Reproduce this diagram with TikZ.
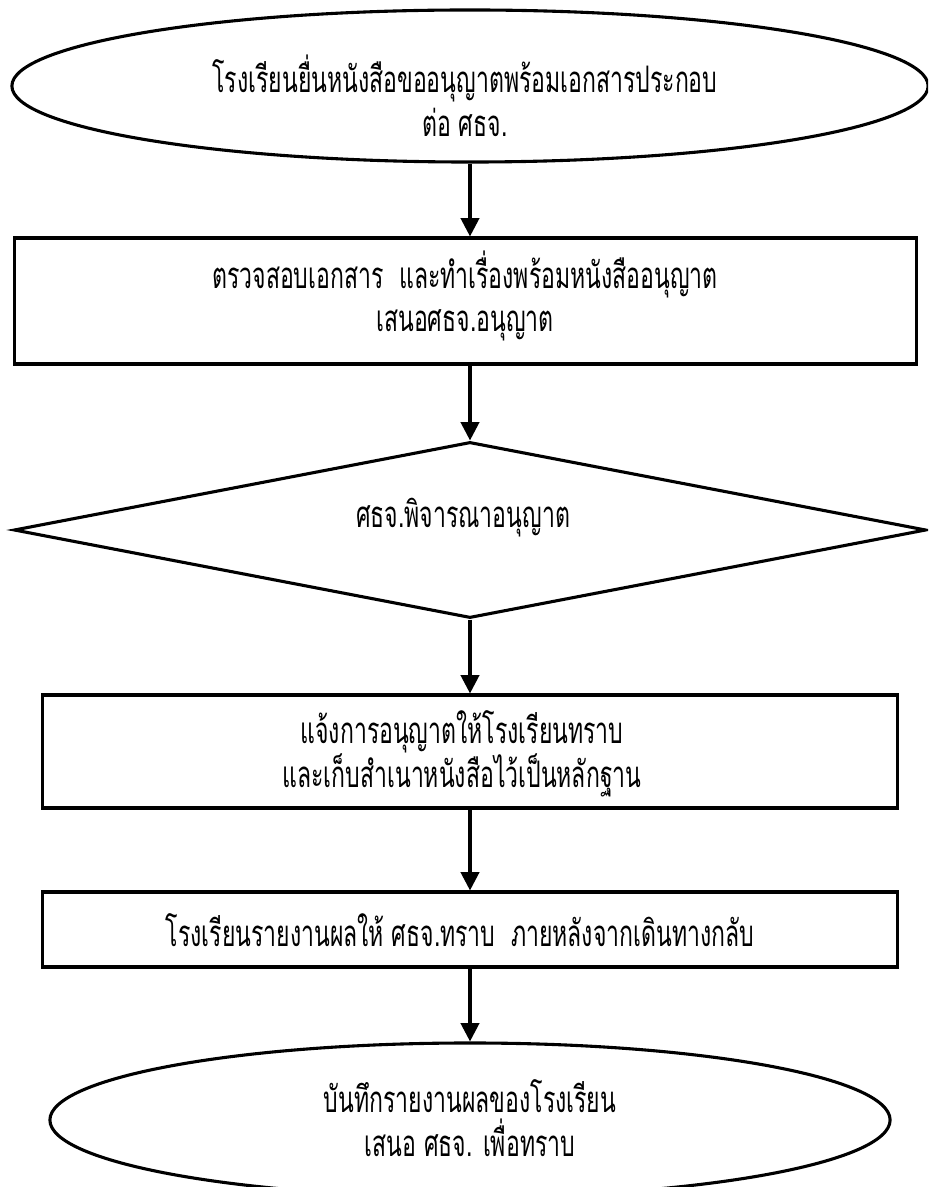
\documentclass[tikz,border=0pt]{standalone}
\usepackage{fontspec}
\newfontfamily\thaifont[Script=Thai,FakeStretch=0.63]{Loma}
\usetikzlibrary{shapes.geometric,arrows.meta}

\begin{document}
\begin{tikzpicture}[x=0.025cm,y=-0.025cm,
        shp/.style={draw,line width=2.2pt,inner sep=0pt},
        txt/.style={font=\thaifont\fontsize{26}{31}\selectfont,align=center},
        arr/.style={line width=2.2pt,-{Triangle[length=13pt,width=13pt]}}]
    \useasboundingbox (0,0) rectangle (928,1187);
    \clip (0,0) rectangle (928,1187);

        %% shapes
        \node[shp,ellipse,minimum width=22.9cm,minimum height=3.8cm] (start) at (470,86) {};
        \node[shp,rectangle,minimum width=22.525cm,minimum height=3.15cm] (check) at (465.5,301) {};
        \node[shp,diamond,minimum width=22.8cm,minimum height=4.4cm] (decide) at (470,530) {};
        \node[shp,rectangle,minimum width=21.35cm,minimum height=2.825cm] (notify) at (470,751.5) {};
        \node[shp,rectangle,minimum width=21.35cm,minimum height=1.875cm] (report) at (470,929.5) {};
        \node[shp,ellipse,minimum width=21cm,minimum height=3.85cm] (finish) at (470,1120) {};

        %% texts
        \node[txt] (tstart) at (465,96) {โรงเรียนยื่นหนังสือขออนุญาตพร้อมเอกสารประกอบ\\ต่อ ศธจ.};
        \node[txt] (tcheck) at (465,296) {ตรวจสอบเอกสาร\ \ และทำเรื่องพร้อมหนังสืออนุญาต\\เสนอศธจ.อนุญาต};
        \node[txt] (tdecide) at (463,518) {ศธจ.พิจารณาอนุญาต};
        \node[txt] (tnotify) at (462,754) {แจ้งการอนุญาตให้โรงเรียนทราบ\\และเก็บสำเนาหนังสือไว้เป็นหลักฐาน};
        \node[txt] (treport) at (460,930) {โรงเรียนรายงานผลให้ ศธจ.ทราบ\ \ ภายหลังจากเดินทางกลับ};
        \node[txt] (tfinish) at (470,1118) {บันทึกรายงานผลของโรงเรียน\\เสนอ ศธจ. เพื่อทราบ};

        %% arrows
        \draw[arr] (start.south) -- (start.south |- check.north);
        \draw[arr] (start.south |- check.south) -- (decide.north);
        \draw[arr] (decide.south) -- (notify.north);
        \draw[arr] (notify.south) -- (report.north);
        \draw[arr] (report.south) -- (finish.north);
\end{tikzpicture}
\end{document}
